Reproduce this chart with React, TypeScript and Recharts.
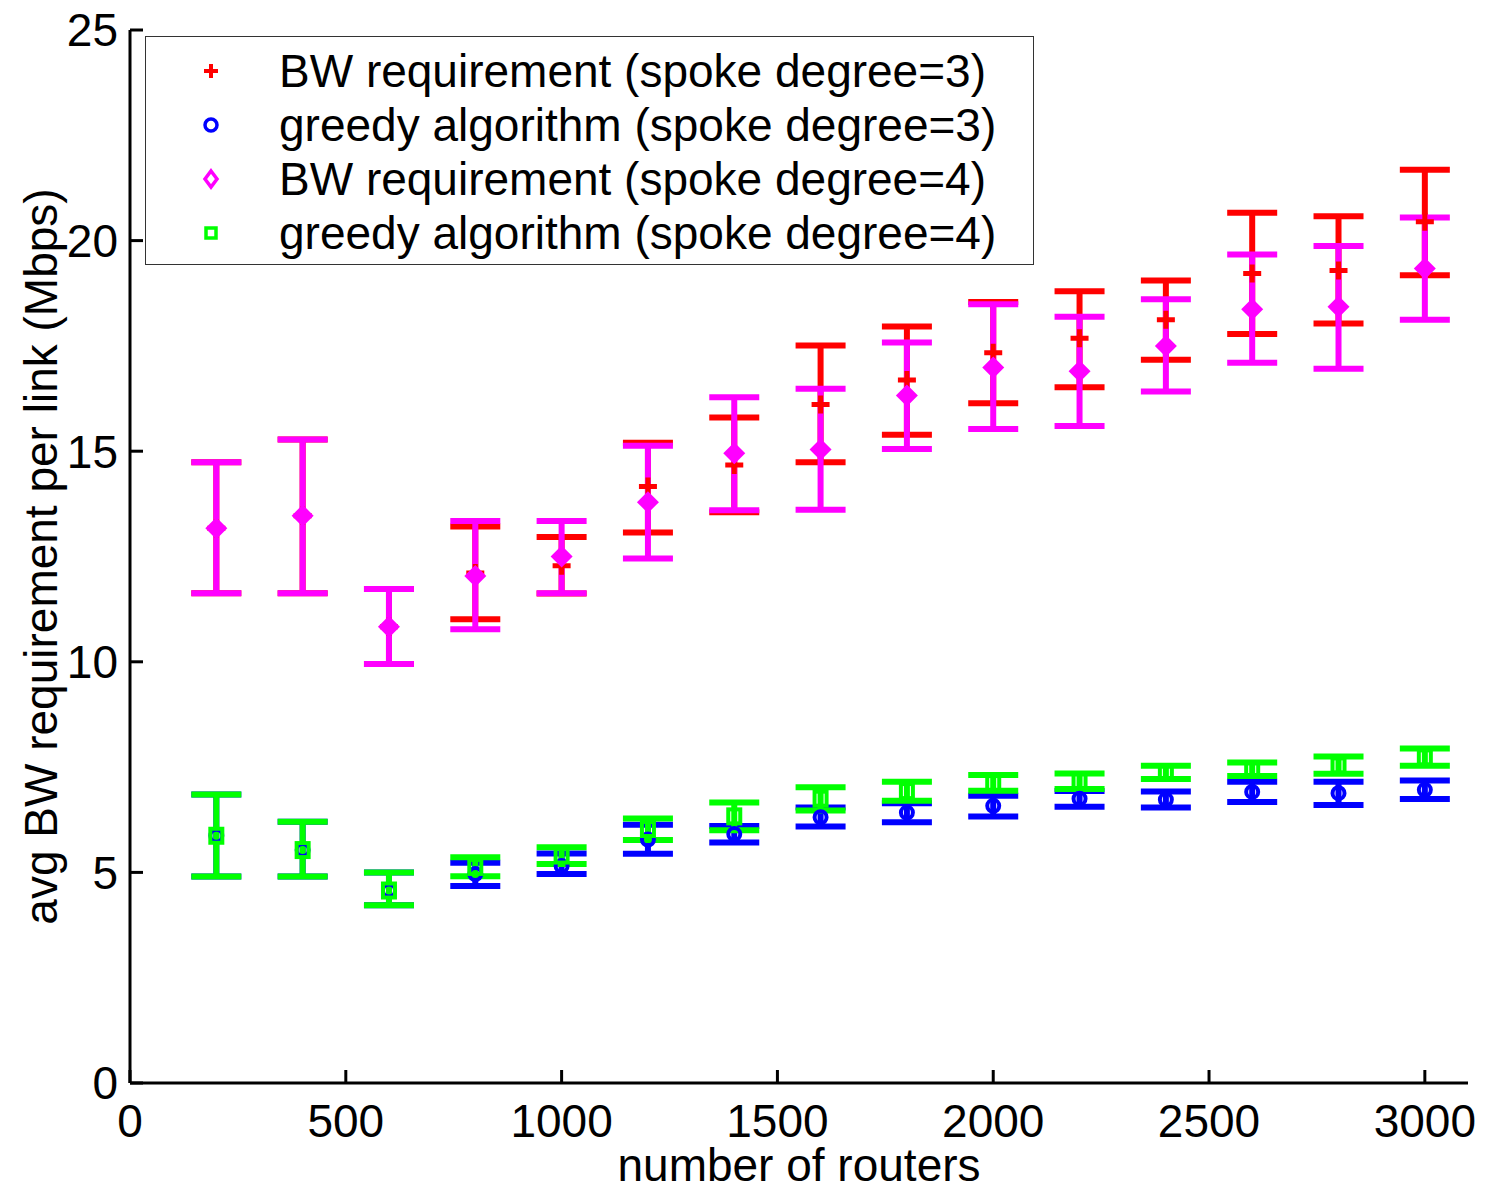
import React from 'react';
import { ScatterChart, Scatter, XAxis, YAxis, ErrorBar, Legend, Label } from 'recharts';

// number of routers on the x axis
const routers = [200, 400, 600, 800, 1000, 1200, 1400, 1600, 1800, 2000, 2200, 2400, 2600, 2800, 3000];

// BW requirement, spoke degree = 3 (red)
const bw3Mean = [13.17, 13.47, 10.83, 12.11, 12.28, 14.16, 14.67, 16.11, 16.69, 17.34, 17.68, 18.12, 19.22, 19.29, 20.45];
const bw3Low = [11.63, 11.63, 9.95, 11.01, 11.62, 13.07, 13.55, 14.74, 15.39, 16.14, 16.52, 17.17, 17.78, 18.03, 19.18];
const bw3High = [14.74, 15.28, 11.73, 13.21, 12.96, 15.2, 15.8, 17.51, 17.96, 18.54, 18.8, 19.05, 20.66, 20.58, 21.68];

// greedy algorithm, spoke degree = 3 (blue)
const gr3Mean = [5.87, 5.53, 4.57, 4.96, 5.15, 5.78, 5.91, 6.31, 6.42, 6.58, 6.75, 6.73, 6.91, 6.88, 6.96];
const gr3Low = [4.9, 4.9, 4.22, 4.68, 4.96, 5.44, 5.71, 6.09, 6.19, 6.33, 6.56, 6.54, 6.67, 6.6, 6.74];
const gr3High = [6.85, 6.2, 5.0, 5.23, 5.45, 6.13, 6.1, 6.54, 6.64, 6.82, 6.93, 6.92, 7.15, 7.15, 7.18];

// BW requirement, spoke degree = 4 (magenta)
const bw4Mean = [13.17, 13.47, 10.83, 12.04, 12.5, 13.79, 14.95, 15.04, 16.32, 16.99, 16.9, 17.5, 18.37, 18.43, 19.34];
const bw4Low = [11.63, 11.63, 9.95, 10.77, 11.63, 12.45, 13.6, 13.61, 15.05, 15.53, 15.6, 16.42, 17.1, 16.96, 18.12];
const bw4High = [14.74, 15.28, 11.73, 13.34, 13.34, 15.13, 16.28, 16.48, 17.58, 18.49, 18.19, 18.61, 19.67, 19.87, 20.55];

// greedy algorithm, spoke degree = 4 (green)
const gr4Mean = [5.87, 5.53, 4.57, 5.13, 5.4, 6.03, 6.33, 6.75, 6.93, 7.12, 7.17, 7.37, 7.45, 7.54, 7.73];
const gr4Low = [4.9, 4.9, 4.22, 4.91, 5.2, 5.77, 6.0, 6.47, 6.7, 6.94, 6.98, 7.22, 7.29, 7.34, 7.53];
const gr4High = [6.85, 6.2, 5.0, 5.36, 5.6, 6.28, 6.66, 7.02, 7.15, 7.31, 7.35, 7.53, 7.61, 7.75, 7.94];

const xTicks = [0, 500, 1000, 1500, 2000, 2500, 3000];
const yTicks = [0, 5, 10, 15, 20, 25];

const FONT = '"Liberation Sans", Arial, Helvetica, sans-serif';

const RED = '#ff0000';
const BLUE = '#0000ff';
const MAGENTA = '#ff00ff';
const GREEN = '#00ff00';

const build = (mean: number[], low: number[], high: number[]) =>
    routers.map((x, i) => ({ x, y: mean[i], err: [mean[i] - low[i], high[i] - mean[i]] }));

const bw3 = build(bw3Mean, bw3Low, bw3High);
const gr3 = build(gr3Mean, gr3Low, gr3High);
const bw4 = build(bw4Mean, bw4Low, bw4High);
const gr4 = build(gr4Mean, gr4Low, gr4High);

// markers
const PlusMark = (p: any) => (
    <path d={`M${p.cx - 9},${p.cy}h18M${p.cx},${p.cy - 9}v18`} stroke={RED} strokeWidth={5} fill="none" />
);
const CircleMark = (p: any) => <circle cx={p.cx} cy={p.cy} r={6} stroke={BLUE} strokeWidth={4} fill="none" />;
const DiamondMark = (p: any) => (
    <path d={`M${p.cx},${p.cy - 11}L${p.cx + 11},${p.cy}L${p.cx},${p.cy + 11}L${p.cx - 11},${p.cy}Z`} fill={MAGENTA} />
);
const SquareMark = (p: any) => (
    <rect x={p.cx - 6} y={p.cy - 7} width={12} height={14} stroke={GREEN} strokeWidth={4} fill="none" />
);

// matlab style ticks: line pointing into the plot, label outside
const YTick = (p: any) => (
    <g>
        <line x1={p.x} y1={p.y} x2={p.x + 13} y2={p.y} stroke="#000" strokeWidth={3} />
        <text x={p.x - 12} y={p.y} dy="0.355em" textAnchor="end" fontSize={46} fontFamily={FONT} fill="#000">
            {p.payload.value}
        </text>
    </g>
);
const XTick = (p: any) => (
    <g>
        <line x1={p.x} y1={p.y} x2={p.x} y2={p.y - 13} stroke="#000" strokeWidth={3} />
        <text x={p.x} y={p.y + 54} textAnchor="middle" fontSize={46} fontFamily={FONT} fill="#000">
            {p.payload.value}
        </text>
    </g>
);

const legendItems = [
    { label: 'BW requirement (spoke degree=3)', kind: 'plus', color: RED },
    { label: 'greedy algorithm (spoke degree=3)', kind: 'circle', color: BLUE },
    { label: 'BW requirement (spoke degree=4)', kind: 'diamond', color: MAGENTA },
    { label: 'greedy algorithm (spoke degree=4)', kind: 'square', color: GREEN },
];

function LegendIcon({ kind, color }: { kind: string; color: string }) {
    return (
        <svg width={24} height={24} style={{ display: 'block' }}>
            {kind === 'plus' && <path d="M5,12h14M12,5v14" stroke={color} strokeWidth={4} />}
            {kind === 'circle' && <circle cx={12} cy={12} r={6} stroke={color} strokeWidth={3.5} fill="none" />}
            {kind === 'diamond' && <path d="M12,4L18,12L12,20L6,12Z" stroke={color} strokeWidth={3.5} fill="none" />}
            {kind === 'square' && <rect x={7} y={7} width={10} height={10} stroke={color} strokeWidth={3.5} fill="none" />}
        </svg>
    );
}

function LegendBox() {
    return (
        <div
            style={{
                width: 889,
                height: 229,
                boxSizing: 'border-box',
                border: '1.5px solid #333',
                background: '#fff',
                fontFamily: FONT,
                fontSize: 46,
                color: '#000',
                paddingTop: 7,
            }}
        >
            {legendItems.map((it) => (
                <div key={it.label} style={{ height: 54, display: 'flex', alignItems: 'center', position: 'relative' }}>
                    <div style={{ position: 'absolute', left: 53 }}>
                        <LegendIcon kind={it.kind} color={it.color} />
                    </div>
                    <span style={{ position: 'absolute', left: 133, whiteSpace: 'nowrap', lineHeight: '54px' }}>{it.label}</span>
                </div>
            ))}
        </div>
    );
}

export default function App() {
    return (
        <div style={{ position: 'absolute', left: 0, top: 0, width: 1486, height: 1191, background: '#fff' }}>
            <ScatterChart width={1486} height={1191} margin={{ top: 30, right: 18, left: 0, bottom: 0 }}>
                <XAxis
                    type="number"
                    dataKey="x"
                    domain={[0, 3100]}
                    ticks={xTicks}
                    allowDataOverflow
                    height={108}
                    stroke="#000"
                    strokeWidth={3}
                    tickSize={0}
                    tickMargin={0}
                    tickLine={false}
                    tick={XTick}
                    interval={0}
                >
                    <Label
                        content={({ viewBox }: any) => (
                            <text
                                x={viewBox.x + viewBox.width / 2}
                                y={viewBox.y + 98}
                                textAnchor="middle"
                                fontSize={46}
                                fontFamily={FONT}
                                fill="#000"
                            >
                                number of routers
                            </text>
                        )}
                    />
                </XAxis>
                <YAxis
                    type="number"
                    dataKey="y"
                    domain={[0, 25]}
                    ticks={yTicks}
                    allowDataOverflow
                    width={130}
                    stroke="#000"
                    strokeWidth={3}
                    tickSize={0}
                    tickMargin={0}
                    tickLine={false}
                    tick={YTick}
                    interval={0}
                >
                    <Label
                        content={({ viewBox }: any) => {
                            const cx = viewBox.x + 57;
                            const cy = viewBox.y + viewBox.height / 2;
                            return (
                                <text
                                    x={cx}
                                    y={cy}
                                    transform={`rotate(-90, ${cx}, ${cy})`}
                                    textAnchor="middle"
                                    fontSize={46}
                                    fontFamily={FONT}
                                    fill="#000"
                                >
                                    avg BW requirement per link (Mbps)
                                </text>
                            );
                        }}
                    />
                </YAxis>
                <Legend
                    layout="horizontal"
                    verticalAlign="middle"
                    align="center"
                    wrapperStyle={{ left: 145, top: 36, width: 889, height: 229 }}
                    content={() => <LegendBox />}
                />
                <Scatter name="bw3" data={bw3} shape={PlusMark} isAnimationActive={false}>
                    <ErrorBar dataKey="err" direction="y" width={25} stroke={RED} strokeWidth={6} isAnimationActive={false} />
                </Scatter>
                <Scatter name="gr3" data={gr3} shape={CircleMark} isAnimationActive={false}>
                    <ErrorBar dataKey="err" direction="y" width={25} stroke={BLUE} strokeWidth={6} isAnimationActive={false} />
                </Scatter>
                <Scatter name="bw4" data={bw4} shape={DiamondMark} isAnimationActive={false}>
                    <ErrorBar dataKey="err" direction="y" width={25} stroke={MAGENTA} strokeWidth={6} isAnimationActive={false} />
                </Scatter>
                <Scatter name="gr4" data={gr4} shape={SquareMark} isAnimationActive={false}>
                    <ErrorBar dataKey="err" direction="y" width={25} stroke={GREEN} strokeWidth={6} isAnimationActive={false} />
                </Scatter>
            </ScatterChart>
        </div>
    );
}
